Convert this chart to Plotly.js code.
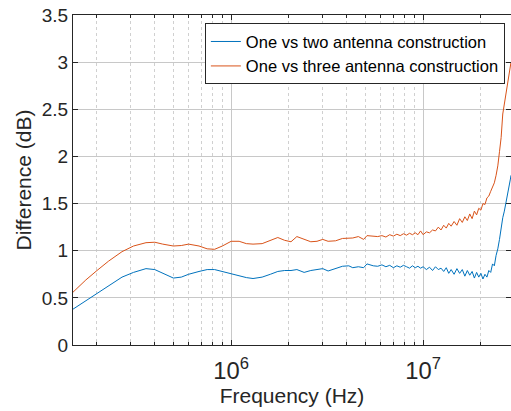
<!DOCTYPE html>
<html>
<head>
<meta charset="utf-8">
<script src="https://cdn.plot.ly/plotly-3.0.1.min.js"></script>
<style>html,body{margin:0;padding:0;overflow:hidden;background:#fff}#plot{width:511px;height:411px}</style>
</head>
<body>
<div id="plot"></div>
<script>
const freq = [
  1.5e5, 1.75e5, 2e5, 2.3e5, 2.7e5, 3.1e5, 3.6e5, 4e5, 4.4e5, 5e5, 5.5e5, 6e5, 6.8e5, 7.5e5, 8.2e5, 9e5,
  1e6, 1.1e6, 1.2e6, 1.3e6, 1.45e6, 1.6e6, 1.75e6, 1.9e6, 2.05e6, 2.2e6, 2.4e6, 2.6e6, 2.8e6, 3e6, 3.2e6,
  3.5e6, 3.8e6, 4.1e6, 4.3e6, 4.6e6, 4.9e6, 5.1e6, 5.5e6,
  5.8e6, 6.1e6, 6.4e6, 6.7e6, 7.0e6, 7.3e6, 7.6e6, 7.9e6, 8.2e6, 8.5e6, 8.8e6, 9.1e6, 9.4e6, 9.7e6,
  1.0e7, 1.04e7, 1.08e7, 1.12e7, 1.16e7, 1.2e7, 1.24e7, 1.28e7, 1.32e7, 1.36e7, 1.4e7, 1.45e7, 1.5e7,
  1.55e7, 1.6e7, 1.65e7, 1.7e7, 1.75e7, 1.8e7, 1.85e7, 1.9e7, 1.95e7, 2.0e7, 2.05e7, 2.1e7, 2.15e7,
  2.2e7, 2.25e7, 2.3e7, 2.35e7, 2.4e7, 2.45e7, 2.5e7, 2.55e7, 2.6e7, 2.65e7, 2.7e7, 2.75e7, 2.8e7,
  2.85e7, 2.87e7
];
const oneVsTwo = [
  0.38, 0.47, 0.54, 0.62, 0.72, 0.77, 0.81, 0.80, 0.76, 0.71, 0.72, 0.75, 0.78, 0.80, 0.80, 0.78,
  0.75, 0.73, 0.715, 0.705, 0.72, 0.75, 0.78, 0.79, 0.79, 0.80, 0.77, 0.79, 0.80, 0.81, 0.785,
  0.81, 0.835, 0.84, 0.82, 0.83, 0.82, 0.86, 0.84,
  0.835, 0.85, 0.83, 0.845, 0.82, 0.84, 0.825, 0.845, 0.83, 0.815, 0.84, 0.82, 0.835, 0.815,
  0.83, 0.80, 0.825, 0.79, 0.83, 0.80, 0.815, 0.78, 0.82, 0.76, 0.80, 0.75, 0.81,
  0.76, 0.80, 0.73, 0.79, 0.74, 0.78, 0.71, 0.77, 0.72, 0.76, 0.70, 0.75, 0.72,
  0.79, 0.77, 0.86, 0.84, 0.95, 1.02, 1.12, 1.25, 1.35, 1.42, 1.50, 1.57, 1.66,
  1.76, 1.80
];
const oneVsThree = [
  0.56, 0.69, 0.79, 0.89, 0.99, 1.05, 1.085, 1.09, 1.07, 1.05, 1.055, 1.07, 1.05, 1.02, 1.015, 1.05,
  1.10, 1.10, 1.075, 1.07, 1.075, 1.11, 1.14, 1.11, 1.095, 1.15, 1.12, 1.095, 1.10, 1.12, 1.10,
  1.105, 1.13, 1.13, 1.135, 1.15, 1.12, 1.16, 1.15,
  1.15, 1.16, 1.145, 1.17, 1.155, 1.175, 1.16, 1.18, 1.165, 1.185, 1.17, 1.19, 1.17, 1.21,
  1.17, 1.20, 1.19, 1.22, 1.21, 1.25, 1.22, 1.27, 1.24, 1.29, 1.26, 1.31, 1.27,
  1.34, 1.30, 1.36, 1.32, 1.39, 1.34, 1.42, 1.38, 1.45, 1.43, 1.50, 1.49, 1.56,
  1.58, 1.63, 1.68, 1.72, 1.80, 1.90, 2.05, 2.20, 2.45, 2.55, 2.66, 2.78, 2.88,
  2.97, 3.0
];
const seriesNames = ['One vs two antenna construction', 'One vs three antenna construction'];
const xTitle = 'Frequency (Hz)';
const yTitle = 'Difference (dB)';

const font = 'Liberation Sans, Arial, sans-serif';
const traces = [
  {x: freq, y: oneVsTwo, name: seriesNames[0], type: 'scatter', mode: 'lines',
   line: {color: '#0072BD', width: 1}},
  {x: freq, y: oneVsThree, name: seriesNames[1], type: 'scatter', mode: 'lines',
   line: {color: '#D95319', width: 1}}
];
const layout = {
  width: 511, height: 411,
  margin: {l: 73, r: 0, t: 15, b: 66},
  paper_bgcolor: '#fff', plot_bgcolor: '#fff',
  font: {family: font, color: '#262626', size: 16},
  showlegend: true,
  legend: {x: 0.986, xanchor: 'right', y: 0.975, yanchor: 'top',
    bgcolor: '#fff', bordercolor: '#262626', borderwidth: 1,
    font: {family: font, size: 16.5, color: '#000'}, tracegroupgap: 0},
  xaxis: {
    type: 'log', range: [Math.log10(1.5e5), Math.log10(2.87e7)],
    dtick: 1, exponentformat: 'power', showexponent: 'all',
    showline: true, linecolor: '#262626', linewidth: 1, mirror: 'ticks',
    ticks: 'inside', ticklen: 5, tickcolor: '#262626', ticklabelstandoff: 5,
    showgrid: true, gridcolor: '#c8c8c8', gridwidth: 1,
    minor: {dtick: 'D1', showgrid: true, gridcolor: '#d0d0d0', griddash: 'dot',
            ticks: 'inside', ticklen: 3, tickcolor: '#262626'},
    zeroline: false, automargin: false,
    tickfont: {family: font, size: 19, color: '#262626'},
    title: {text: xTitle, font: {family: font, size: 21, color: '#262626'}, standoff: 3}
  },
  yaxis: {
    range: [0, 3.5], dtick: 0.5,
    showline: true, linecolor: '#262626', linewidth: 1, mirror: 'ticks',
    ticks: 'inside', ticklen: 5, tickcolor: '#262626',
    showgrid: true, gridcolor: '#c8c8c8', gridwidth: 1,
    zeroline: false, automargin: false,
    tickfont: {family: font, size: 19, color: '#262626'},
    title: {text: yTitle, font: {family: font, size: 21, color: '#262626'}, standoff: 4}
  }
};
Plotly.newPlot('plot', traces, layout, {staticPlot: true, displayModeBar: false});
</script>
</body>
</html>
